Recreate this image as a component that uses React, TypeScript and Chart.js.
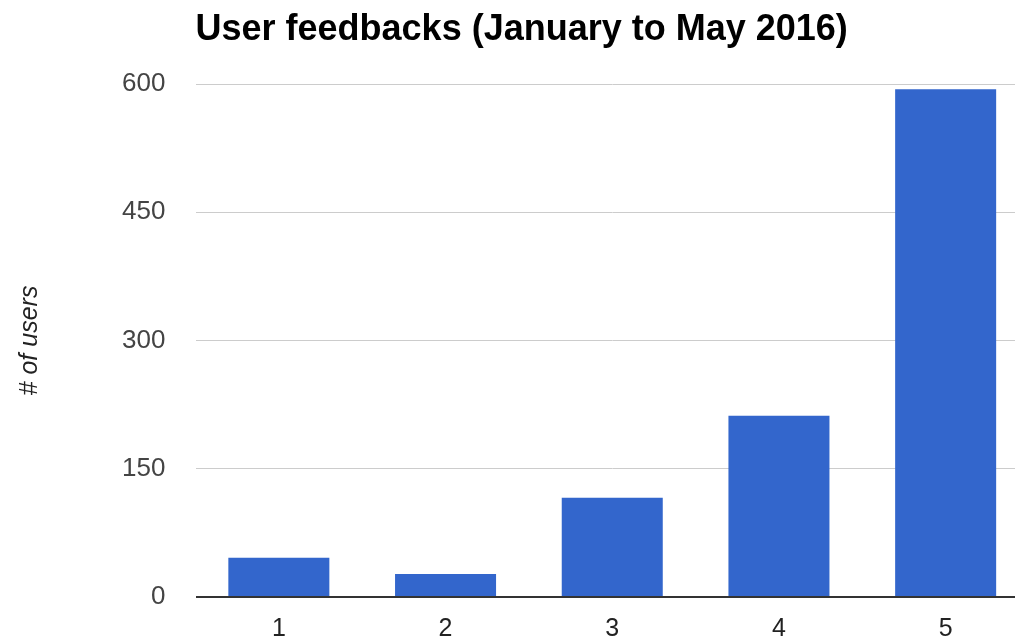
import React, { useEffect, useRef } from "react";
import { Chart, registerables } from "chart.js";

Chart.register(...registerables);

const chartTitle = "User feedbacks (January to May 2016)";
const yAxisTitle = "# of users";
const categories = ["1", "2", "3", "4", "5"];
const userCounts = [46, 27, 116, 212, 594];
const yTickMin = 0;
const yTickMax = 600;
const yTickStep = 150;

export default function App() {
  const canvasRef = useRef<HTMLCanvasElement | null>(null);

  useEffect(() => {
    const canvas = canvasRef.current;
    if (!canvas) return;
    const chart = new Chart(canvas, {
      type: "bar",
      data: {
        labels: categories,
        datasets: [
          {
            label: yAxisTitle,
            data: userCounts,
            backgroundColor: "#3366CC",
            borderWidth: 0,
            categoryPercentage: 1,
            barPercentage: 0.606,
          },
        ],
      },
      options: {
        responsive: false,
        animation: false,
        layout: { padding: 0 },
        plugins: {
          legend: { display: false },
          tooltip: { enabled: false },
          title: {
            display: true,
            text: chartTitle,
            align: "start",
            fullSize: false,
            color: "#000000",
            font: { family: "'Liberation Sans', Arial, sans-serif", size: 36, weight: "bold", lineHeight: 1.2 },
            padding: { top: 8, bottom: 32.8 },
          },
        },
        scales: {
          x: {
            grid: { display: false, drawTicks: false },
            border: { display: false },
            ticks: {
              color: "#222222",
              padding: 17,
              font: { family: "'Liberation Sans', Arial, sans-serif", size: 25 },
            },
            afterFit: (scale: any) => {
              scale.height = 42;
            },
          },
          y: {
            min: yTickMin,
            max: yTickMax,
            border: { display: false },
            grid: {
              drawTicks: true,
              tickLength: 28,
              tickColor: "rgba(0,0,0,0)",
              color: (ctx: any) => (ctx.tick && ctx.tick.value === 0 ? "#333333" : "#cccccc"),
              lineWidth: (ctx: any) => (ctx.tick && ctx.tick.value === 0 ? 2 : 1),
            },
            ticks: {
              stepSize: yTickStep,
              color: "#444444",
              padding: 2,
              font: { family: "'Liberation Sans', Arial, sans-serif", size: 26 },
            },
            title: {
              display: true,
              text: yAxisTitle,
              color: "#222222",
              padding: { top: 15, bottom: 0 },
              font: { family: "'Liberation Sans', Arial, sans-serif", size: 25, style: "italic", lineHeight: 1.2 },
            },
            afterFit: (scale: any) => {
              scale.width = 195.5;
            },
          },
        },
      },
    });
    return () => chart.destroy();
  }, []);

  return (
    <div
      style={{
        position: "fixed",
        left: 0,
        top: 0,
        width: 1015,
        height: 639,
        overflow: "hidden",
        background: "#ffffff",
      }}
    >
      <canvas ref={canvasRef} width={1029} height={639} style={{ display: "block", width: 1029, height: 639 }} />
    </div>
  );
}
